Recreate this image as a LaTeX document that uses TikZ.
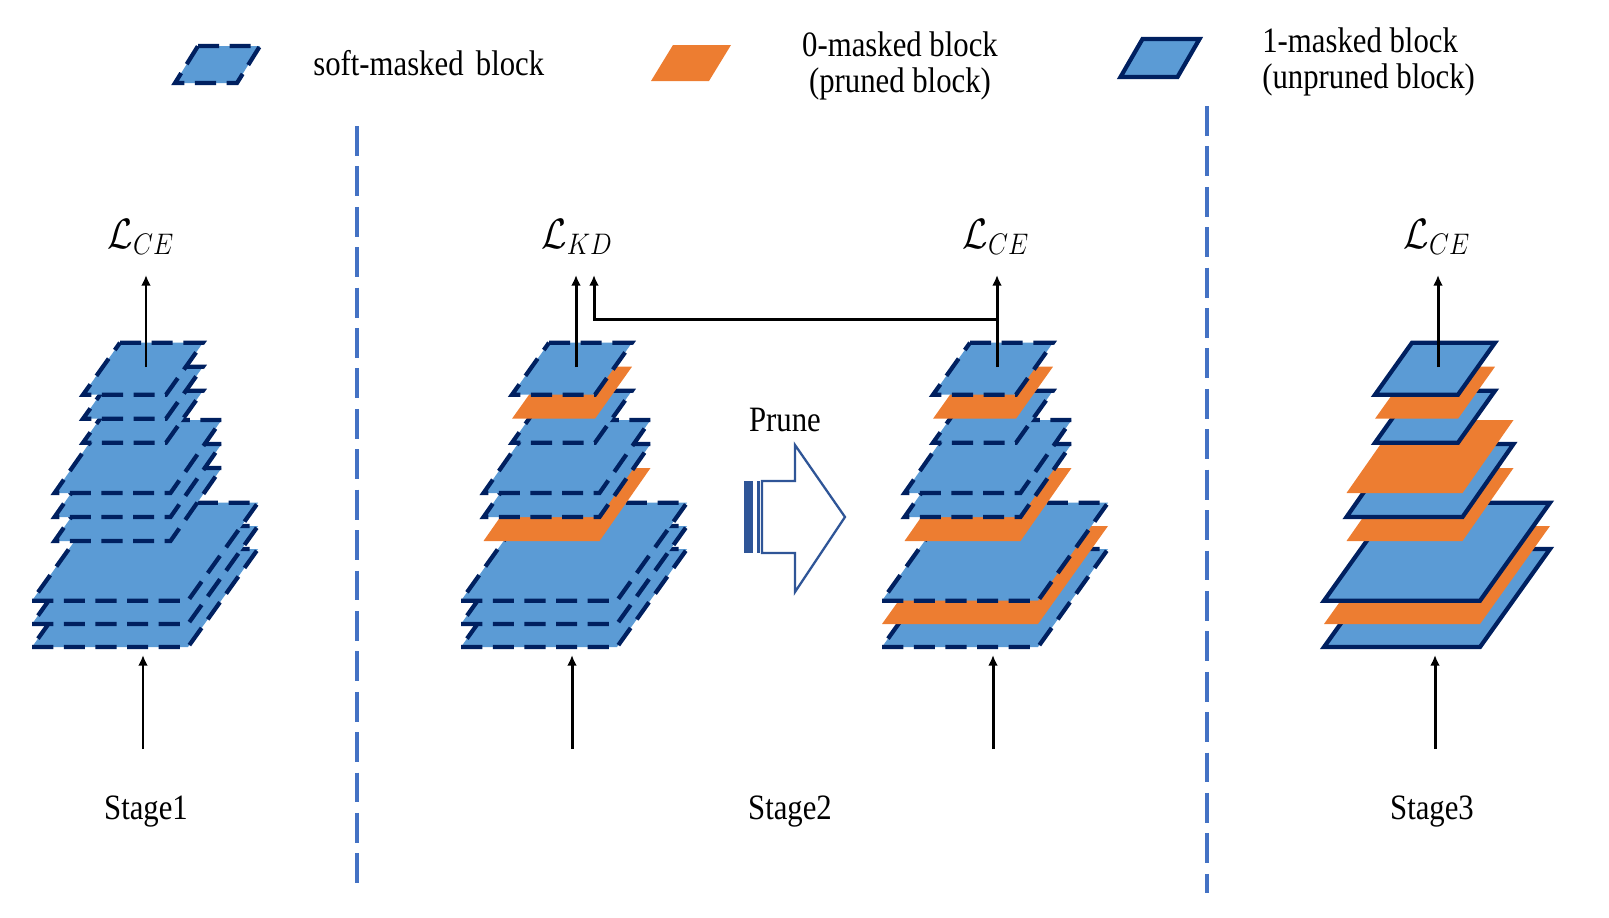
\RequirePackage{fix-cm}
\documentclass[tikz,border=0pt]{standalone}
\usepackage{fontspec}
\setmainfont{Liberation Serif}
\usetikzlibrary{arrows.meta}

\definecolor{blkblue}{HTML}{5B9BD5}
\definecolor{blknavy}{HTML}{002060}
\definecolor{blkorange}{HTML}{ED7D31}
\definecolor{sepblue}{HTML}{4472C4}
\definecolor{prunblue}{HTML}{2F5597}

\tikzset{
  softblk/.style={fill=blkblue, draw=blknavy, line width=2.4pt, dash pattern=on 12pt off 6pt},
  zeroblk/.style={fill=blkorange},
  oneblk/.style={fill=blkblue, draw=blknavy, line width=2.4pt},
  sep/.style={draw=sepblue, line width=2.2pt, dash pattern=on 17pt off 6pt},
  arr/.style={line width=1.7pt, -{Latex[length=6pt, width=5.5pt]}},
  txt/.style={font=\fontsize{17.5}{17.5}\selectfont, inner sep=0pt, transform shape, yscale=1.16},
  loss/.style={font=\fontsize{21}{24}\selectfont, inner sep=0pt, transform shape, yscale=1.15}
}

% parallelogram block: \layer{style}{cx}{cy}{w}{h}{slant}
\newcommand{\layer}[6]{%
  \path[#1] ({#2-(#4)/2+(#6)/2},{#3-(#5)/2}) -- ++(#4,0) -- ++({-(#6)},#5) -- ++({-(#4)},0) -- cycle;}
\newcommand{\layerS}[3]{\layer{#1}{#2}{#3}{83}{52}{37}}
\newcommand{\layerM}[3]{\layer{#1}{#2}{#3}{116}{73}{51}}
\newcommand{\layerL}[3]{\layer{#1}{#2}{#3}{156}{98}{70}}

% nine blocks, styles given from the bottom block to the top one
\newcommand{\stack}[9]{%
  \layerL{#1}{2}{598}
  \layerL{#2}{2}{575}
  \layerL{#3}{2}{551.7}
  \layerM{#4}{-5}{504.5}
  \layerM{#5}{-5}{480.5}
  \layerM{#6}{-5}{456.5}
  \layerS{#7}{0}{416.7}
  \layerS{#8}{0}{392.7}
  \layerS{#9}{0}{368.7}}

\begin{document}
\begin{tikzpicture}[x=0.02cm, y=-0.02cm]
\useasboundingbox (0,0) rectangle (1609,917);

% Legend
\layer{softblk}{217.5}{64.5}{62}{37}{23}
\node[txt, anchor=west] (legsoft) at (313,63) {soft-masked\hspace{7pt}block};
\layer{zeroblk}{691}{63}{58}{36}{22}
\node[txt, align=center] (legzero) at (900,66) {0-masked block\\(pruned block)};
\layer{oneblk}{1160}{58}{57}{38}{22}
\node[txt, align=left, anchor=west] (legone) at (1262,62) {1-masked block\\(unpruned block)};

% Stage separators
\draw[sep] (357,126) -- (357,893);
\draw[sep] (1207,106) -- (1207,893);

% Stage 1
\begin{scope}[shift={(143,0)}]
  \stack{softblk}{softblk}{softblk}{softblk}{softblk}{softblk}{softblk}{softblk}{softblk}
\end{scope}

% Stage 2, before pruning
\begin{scope}[shift={(572,0)}]
  \stack{softblk}{softblk}{softblk}{zeroblk}{softblk}{softblk}{softblk}{zeroblk}{softblk}
\end{scope}

% Stage 2, after pruning
\begin{scope}[shift={(993,0)}]
  \stack{softblk}{zeroblk}{softblk}{zeroblk}{softblk}{softblk}{softblk}{zeroblk}{softblk}
\end{scope}

% Stage 3
\begin{scope}[shift={(1435,0)}]
  \stack{oneblk}{zeroblk}{oneblk}{zeroblk}{oneblk}{zeroblk}{oneblk}{zeroblk}{oneblk}
\end{scope}

% Prune arrow
\fill[prunblue] (744,481) rectangle (753,553);
\fill[prunblue] (757,481) rectangle (760,553);
\draw[prunblue, line width=1.3pt, fill=white] (762,481) -- (795,481) -- (795,445) -- (845,517)
  -- (795,592) -- (795,553) -- (762,553) -- cycle;
\node[txt] (prune) at (785,420) {Prune};

% Losses
\node[loss] (lce1) at (141,237) {$\mathcal{L}_{CE}$};
\node[loss] (lkd) at (577,237) {$\mathcal{L}_{KD}$};
\node[loss] (lce2) at (996,237) {$\mathcal{L}_{CE}$};
\node[loss] (lce3) at (1437,237) {$\mathcal{L}_{CE}$};

% Inputs and outputs
\coordinate (in1) at (143,749);  \coordinate (bot1) at (143,655);
\coordinate (in2) at (572,749);  \coordinate (bot2) at (572,655);
\coordinate (in3) at (993,749);  \coordinate (bot3) at (993,655);
\coordinate (in4) at (1435,749); \coordinate (bot4) at (1435,655);
\coordinate (top1) at (146,367);  \coordinate (out1) at (146,275);
\coordinate (top2) at (576,367);  \coordinate (out2) at (576,275);
\coordinate (top3) at (997,367);  \coordinate (out3) at (997,275);
\coordinate (top4) at (1438,367); \coordinate (out4) at (1438,275);
\coordinate (kdjoin) at (997,319); \coordinate (kdout) at (594,275);

\draw[arr] (in1) -- (bot1);
\draw[arr] (in2) -- (bot2);
\draw[arr] (in3) -- (bot3);
\draw[arr] (in4) -- (bot4);
\draw[arr] (top1) -- (out1);
\draw[arr] (top2) -- (out2);
\draw[arr] (top3) -- (out3);
\draw[arr] (top4) -- (out4);
\draw[arr] (kdjoin) -| (kdout);

% Stage names
\node[txt] (stg1) at (146,812) {Stage1};
\node[txt] (stg2) at (790,812) {Stage2};
\node[txt] (stg3) at (1432,812) {Stage3};

\end{tikzpicture}
\end{document}
